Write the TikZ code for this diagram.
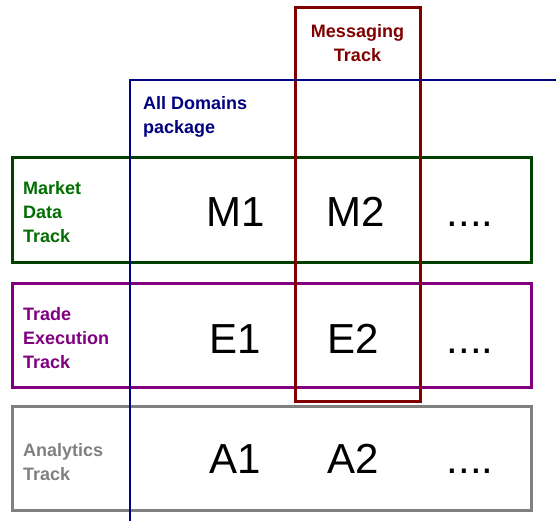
\documentclass[tikz,border=0pt]{standalone}
\usepackage{fontspec}
\setmainfont{Liberation Sans}
\usepackage{tikz}

\definecolor{msgred}{RGB}{128,0,0}
\definecolor{domblue}{RGB}{0,0,128}
\definecolor{mktgreen}{RGB}{0,64,0}
\definecolor{mkttext}{RGB}{0,110,0}
\definecolor{trdpurple}{RGB}{128,0,128}
\definecolor{anagray}{RGB}{128,128,128}

\begin{document}
\begin{tikzpicture}[x=1pt, y=-1pt,
		track_style/.style={rectangle,draw,line width=3pt,minimum width=519pt,minimum height=104pt,inner sep=0pt},
		label_style/.style={align=left,anchor=west,inner sep=0pt,font=\fontsize{18}{24}\selectfont\bfseries},
		cell_style/.style={anchor=base,inner sep=0pt,font=\fontsize{42}{48}\selectfont}]

		\useasboundingbox (0,0) rectangle (556,521);

		% tracks
		\node[track_style,draw=mktgreen] (mkt) at (271.5,210) {};
		\node[track_style,draw=trdpurple] (trd) at (271.5,335) {};
		\node[track_style,draw=anagray] (ana) at (271.5,458.5) {};

		% messaging column
		\node[rectangle,draw=msgred,line width=3pt,minimum width=125pt,minimum height=393pt,inner sep=0pt] (msg) at (357.5,204.5) {};

		% all domains package
		\coordinate (dom_top) at (556,80);
		\coordinate (dom_bot) at (130,521);
		\draw[domblue,line width=2.5pt] (dom_top) -| (dom_bot);

		% labels
		\node[label_style,align=center,anchor=center,text=msgred] (msg_lbl) at (357.5,43) {Messaging\\Track};
		\node[label_style,text=domblue] (dom_lbl) at (143,117) {All Domains\\package};
		\node[label_style,text=mkttext] (mkt_lbl) at (23,212) {Market\\Data\\Track};
		\node[label_style,text=trdpurple] (trd_lbl) at (23,338) {Trade\\Execution\\Track};
		\node[label_style,text=anagray] (ana_lbl) at (23,462) {Analytics\\Track};

		% cells
		\node[cell_style] (m1) at (236,226) {M1};
		\node[cell_style] (m2) at (356,226) {M2};
		\node[cell_style] (m3) at (470,226) {....};
		\node[cell_style] (e1) at (235,353) {E1};
		\node[cell_style] (e2) at (353,353) {E2};
		\node[cell_style] (e3) at (470,353) {....};
		\node[cell_style] (a1) at (235,473) {A1};
		\node[cell_style] (a2) at (353,473) {A2};
		\node[cell_style] (a3) at (470,473) {....};
\end{tikzpicture}
\end{document}
